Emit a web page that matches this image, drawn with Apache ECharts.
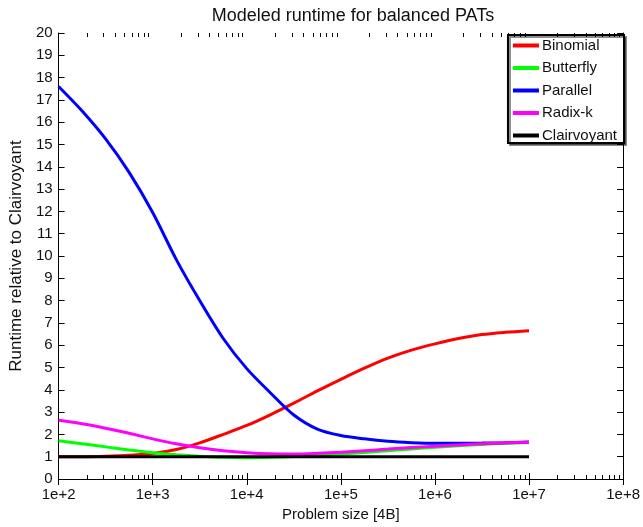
<!DOCTYPE html>
<html>
<head>
<meta charset="utf-8">
<script src="https://cdn.jsdelivr.net/npm/echarts@6/dist/echarts.min.js"></script>
<style>
html,body{margin:0;padding:0;background:#fff;}
#c{width:643px;height:527px;}
</style>
</head>
<body>
<div id="c"></div>
<script>
// Problem sizes (4B units), quarter-decade steps, at which values were read
var sizes = [100, 178, 316, 562, 1000, 1778, 3162, 5623, 10000, 17783, 31623, 56234,
             100000, 177828, 316228, 562341, 1000000, 1778279, 3162278, 5623413, 10000000];
var binomial    = [1.00, 1.00, 1.02, 1.06, 1.14, 1.32, 1.62, 2.00, 2.40, 2.88, 3.40, 3.95,
                   4.47, 4.97, 5.42, 5.78, 6.06, 6.30, 6.48, 6.58, 6.65];
var butterfly   = [1.72, 1.58, 1.44, 1.30, 1.18, 1.09, 1.02, 0.97, 0.95, 0.97, 1.01, 1.06,
                   1.12, 1.19, 1.27, 1.35, 1.42, 1.49, 1.55, 1.60, 1.64];
var parallel    = [17.6, 16.5, 15.25, 13.75, 11.95, 9.85, 8.0, 6.3, 4.95, 3.87, 2.87, 2.24,
                   1.95, 1.80, 1.69, 1.63, 1.60, 1.60, 1.61, 1.63, 1.66];
var radixk      = [2.63, 2.48, 2.28, 2.05, 1.80, 1.58, 1.40, 1.27, 1.18, 1.13, 1.12, 1.15,
                   1.20, 1.27, 1.34, 1.41, 1.47, 1.53, 1.58, 1.62, 1.65];
var clairvoyant = [1, 1, 1, 1, 1, 1, 1, 1, 1, 1, 1, 1, 1, 1, 1, 1, 1, 1, 1, 1, 1];
var seriesNames = ['Binomial', 'Butterfly', 'Parallel', 'Radix-k', 'Clairvoyant'];
var seriesColors = ['#ff0000', '#00ff00', '#0000ff', '#ff00ff', '#000000'];
var seriesValues = [binomial, butterfly, parallel, radixk, clairvoyant];
var xMin = 1e2, xMax = 1e8;
var yMin = 0, yMax = 20, yStep = 1;
var minorMultipliers = [2, 3, 4, 5, 6, 7, 8, 9];

var FONT = '"Liberation Sans", Arial, Helvetica, sans-serif';
var chart = echarts.init(document.getElementById('c'), null, {renderer: 'canvas'});

function pairs(vals) {
  return sizes.map(function (s, i) { return [s, vals[i]]; });
}
function expLabel(v) {
  return '1e+' + Math.round(Math.log(v) / Math.LN10);
}

var series = seriesNames.map(function (name, i) {
  return {
    name: name,
    type: 'line',
    data: pairs(seriesValues[i]),
    smooth: 0.3,
    showSymbol: false,
    symbol: 'none',
    lineStyle: {color: seriesColors[i], width: 3},
    itemStyle: {color: seriesColors[i]},
    z: 2 + i,
    animation: false
  };
});

var option = {
  animation: false,
  backgroundColor: '#fff',
  textStyle: {fontFamily: FONT},
  title: {
    text: 'Modeled runtime for balanced PATs',
    left: 348, top: 2, textAlign: 'center',
    textStyle: {fontFamily: FONT, fontSize: 18, fontWeight: 'normal', color: '#111'}
  },
  grid: {left: 58, right: 16, top: 33, bottom: 48, containLabel: false},
  legend: {
    orient: 'vertical',
    right: 19, top: 35,
    icon: 'rect',
    itemWidth: 26, itemHeight: 4,
    itemGap: 7.5,
    padding: [3, 7, 0, 5],
    backgroundColor: '#fff',
    borderColor: '#000', borderWidth: 2,
    shadowColor: 'rgba(0,0,0,0.45)', shadowOffsetX: 2, shadowOffsetY: 2, shadowBlur: 0,
    textStyle: {fontFamily: FONT, fontSize: 15, color: '#111', padding: [0, 0, 0, -2]},
    data: seriesNames
  },
  xAxis: [{
    type: 'log', logBase: 10, min: xMin, max: xMax,
    name: 'Problem size [4B]', nameLocation: 'middle', nameGap: 27,
    nameTextStyle: {fontFamily: FONT, fontSize: 15, color: '#111'},
    axisLine: {lineStyle: {color: '#000', width: 1}},
    axisTick: {inside: true, length: 6, lineStyle: {color: '#000'}},
    axisLabel: {formatter: expLabel, fontFamily: FONT, fontSize: 15, color: '#111', margin: 8},
    splitLine: {show: false}
  }, {
    type: 'log', logBase: 10, min: xMin, max: xMax, position: 'top',
    axisLine: {lineStyle: {color: '#000', width: 1}},
    axisTick: {inside: true, length: 6, lineStyle: {color: '#000'}},
    axisLabel: {show: false},
    splitLine: {show: false}
  }],
  yAxis: [{
    type: 'value', min: yMin, max: yMax, interval: yStep,
    name: 'Runtime relative to Clairvoyant', nameLocation: 'middle', nameGap: 31,
    nameTextStyle: {fontFamily: FONT, fontSize: 17, color: '#111'},
    axisLine: {show: true, lineStyle: {color: '#000', width: 1}},
    axisTick: {show: true, inside: true, length: 6, lineStyle: {color: '#000'}},
    axisLabel: {fontFamily: FONT, fontSize: 15, color: '#111', margin: 6},
    splitLine: {show: false}
  }, {
    type: 'value', min: yMin, max: yMax, interval: yStep, position: 'right',
    axisLine: {show: true, lineStyle: {color: '#000', width: 1}},
    axisTick: {show: true, inside: true, length: 6, lineStyle: {color: '#000'}},
    axisLabel: {show: false},
    splitLine: {show: false}
  }],
  series: series
};
chart.setOption(option);

// minor ticks on the log axes (2..9 within each decade), positioned by the axis scale
function addMinorTicks() {
  var els = [];
  var yBottom = chart.convertToPixel({yAxisIndex: 0}, yMin);
  var yTop = chart.convertToPixel({yAxisIndex: 0}, yMax);
  for (var d = xMin; d < xMax; d *= 10) {
    minorMultipliers.forEach(function (m) {
      var px = Math.round(chart.convertToPixel({xAxisIndex: 0}, d * m)) + 0.5;
      els.push({type: 'line', silent: true, z: 10,
        shape: {x1: px, y1: yBottom, x2: px, y2: yBottom - 4},
        style: {stroke: '#000', lineWidth: 1}});
      els.push({type: 'line', silent: true, z: 10,
        shape: {x1: px, y1: yTop, x2: px, y2: yTop + 4},
        style: {stroke: '#000', lineWidth: 1}});
    });
  }
  chart.setOption({graphic: els});
}
addMinorTicks();
</script>
</body>
</html>
